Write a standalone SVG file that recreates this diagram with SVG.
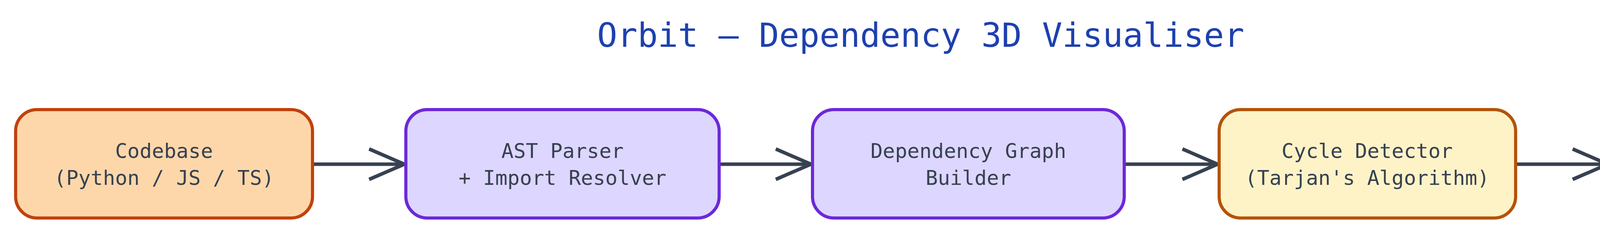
<svg xmlns="http://www.w3.org/2000/svg" width="6000" height="600" viewBox="0 0 6000 600">
<defs>
<style>
.n rect{stroke-width:8}
.n text{font-family:"DejaVu Sans Mono",monospace;font-size:52px;fill:#374151;text-anchor:middle}
.e path{fill:none;stroke:#374151;stroke-width:9}
.t{font-family:"DejaVu Sans Mono",monospace;font-size:86px;fill:#1e40af;text-anchor:middle}
</style>
</defs>
<rect width="6000" height="600" fill="#fff"/>
<text class="t" x="2357" y="120">Orbit — Dependency 3D Visualiser</text>
<g class="e">
<path d="M800,421 H1033 M945,382 L1035,421 L945,460"/>
<path d="M1841,421 H2074 M1986,382 L2076,421 L1986,460"/>
<path d="M2878,421 H3115 M3027,382 L3117,421 L3027,460"/>
<path d="M3880,421 H4114 M4026,382 L4116,421 L4026,460"/>
<path d="M4918,421 H5155 M5067,382 L5157,421 L5067,460"/>
</g>
<g id="n1" class="n"><rect x="40" y="281" width="760" height="278" rx="55" fill="#fdd7aa" stroke="#c2410c"/><text x="420" y="405">Codebase</text><text x="420" y="474">(Python / JS / TS)</text></g>
<g id="n2" class="n"><rect x="1039" y="281" width="802" height="278" rx="55" fill="#ddd6fe" stroke="#6d28d9"/><text x="1440" y="405">AST Parser</text><text x="1440" y="474">+ Import Resolver</text></g>
<g id="n3" class="n"><rect x="2080" y="281" width="798" height="278" rx="55" fill="#ddd6fe" stroke="#6d28d9"/><text x="2479" y="405">Dependency Graph</text><text x="2479" y="474">Builder</text></g>
<g id="n4" class="n"><rect x="3121" y="281" width="759" height="278" rx="55" fill="#fef3c7" stroke="#b45309"/><text x="3500" y="405">Cycle Detector</text><text x="3500" y="474">(Tarjan's Algorithm)</text></g>
<g id="n5" class="n"><rect x="4120" y="281" width="798" height="278" rx="55" fill="#ddd6fe" stroke="#6d28d9"/><text x="4519" y="405">Three.js 3D</text><text x="4519" y="474">Force Layout</text></g>
<g id="n6" class="n"><rect x="5161" y="281" width="797" height="278" rx="55" fill="#a7f3d0" stroke="#047857"/><text x="5559" y="405">Interactive Browser</text><text x="5559" y="474">Visualization</text></g>
</svg>
